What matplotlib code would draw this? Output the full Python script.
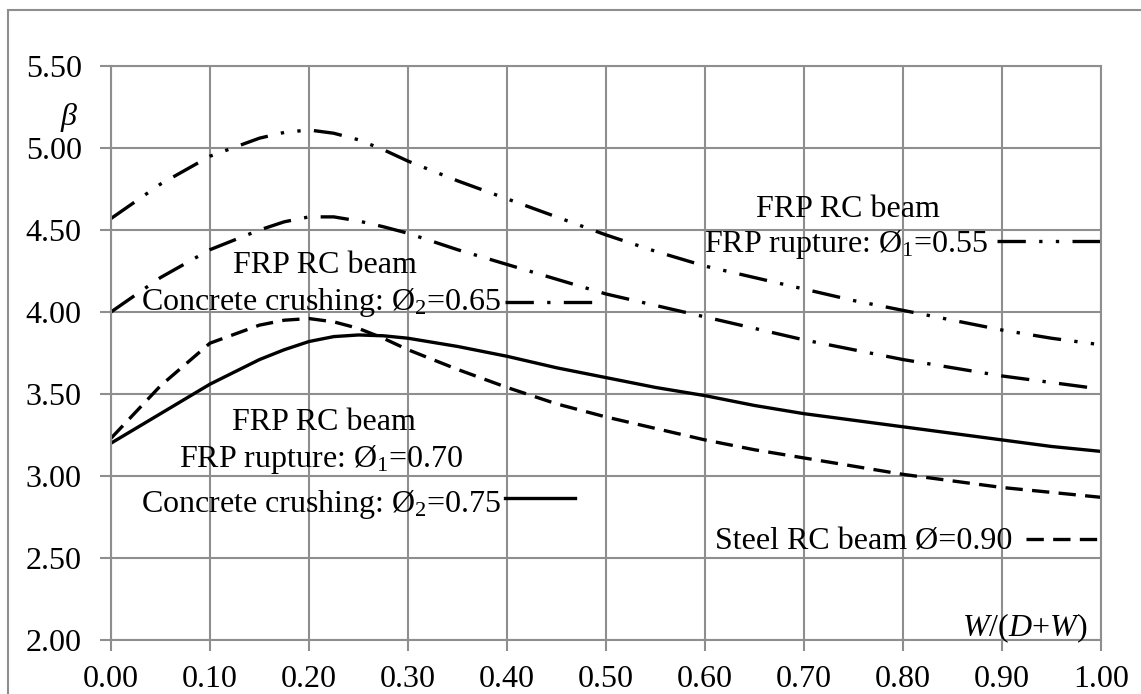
import numpy as np
import matplotlib.pyplot as plt
from matplotlib.patches import Rectangle
from matplotlib.lines import Line2D

plt.rcParams['font.family'] = ['Liberation Serif', 'DejaVu Serif']
plt.rcParams['mathtext.fontset'] = 'custom'
plt.rcParams['mathtext.rm'] = 'Liberation Serif'
plt.rcParams['mathtext.it'] = 'Liberation Serif:italic'

# W/(D+W) ratio
ratio = [0.00, 0.05, 0.10, 0.15, 0.175, 0.20, 0.225, 0.25, 0.275, 0.30, 0.35, 0.40,
         0.45, 0.50, 0.55, 0.60, 0.65, 0.70, 0.75, 0.80, 0.85, 0.90, 0.95, 1.00]

# reliability index beta for each case
beta_frp_055 = [4.57, 4.78, 4.95, 5.06, 5.095, 5.11, 5.09, 5.05, 4.99, 4.92, 4.80, 4.69,
                4.58, 4.47, 4.37, 4.28, 4.21, 4.14, 4.07, 4.01, 3.95, 3.89, 3.84, 3.80]
beta_frp_065 = [4.00, 4.21, 4.38, 4.50, 4.55, 4.58, 4.58, 4.555, 4.52, 4.48, 4.38, 4.29,
                4.20, 4.11, 4.04, 3.97, 3.90, 3.83, 3.77, 3.71, 3.66, 3.61, 3.57, 3.53]
beta_frp_070 = [3.20, 3.38, 3.56, 3.71, 3.77, 3.82, 3.85, 3.86, 3.855, 3.84, 3.79, 3.73,
                3.66, 3.60, 3.54, 3.49, 3.43, 3.38, 3.34, 3.30, 3.26, 3.22, 3.18, 3.15]
beta_steel = [3.23, 3.55, 3.81, 3.92, 3.95, 3.96, 3.94, 3.90, 3.84, 3.77, 3.65, 3.54,
              3.44, 3.36, 3.29, 3.22, 3.16, 3.11, 3.06, 3.01, 2.97, 2.93, 2.90, 2.87]

x_ticks = [0.0, 0.1, 0.2, 0.3, 0.4, 0.5, 0.6, 0.7, 0.8, 0.9, 1.0]
y_ticks = [2.0, 2.5, 3.0, 3.5, 4.0, 4.5, 5.0, 5.5]

grid_col = '#8e8e8e'
lw = 2.4
fs = 23

fig = plt.figure(figsize=(11.41, 6.94), dpi=100)
ax = fig.add_axes([111 / 1141, 1 - 640 / 694, 990 / 1141, 574 / 694])

# figure border (cut off at right and bottom in the original)
fig.patches.append(Rectangle((8 / 1141, -0.2), 1.5, 1.2 - 10 / 694,
                             transform=fig.transFigure, fill=False,
                             edgecolor=grid_col, lw=1.5))

style_055 = dict(color='black', lw=lw, dashes=(8.5, 4, 1, 4, 1, 4), dash_capstyle='butt')
style_065 = dict(color='black', lw=lw, dashes=(8.5, 4, 1, 4), dash_capstyle='butt')
style_070 = dict(color='black', lw=lw)
style_steel = dict(color='black', lw=lw, dashes=(5.2, 2.8), dash_capstyle='butt')

ax.plot(ratio, beta_frp_055, **style_055)
ax.plot(ratio, beta_frp_065, **style_065)
ax.plot(ratio, beta_frp_070, **style_070)
ax.plot(ratio, beta_steel, **style_steel)

ax.set_xlim(0, 1)
ax.set_ylim(2, 5.5)
ax.set_xticks(x_ticks)
ax.set_yticks(y_ticks)
ax.set_xticklabels([f"{v:.2f}" for v in x_ticks])
ax.set_yticklabels([f"{v:.2f}" for v in y_ticks])
ax.grid(True, color=grid_col, lw=1.5)
ax.set_axisbelow(True)
for s in ax.spines.values():
    s.set_color(grid_col)
    s.set_linewidth(1.5)
ax.tick_params(axis='both', length=8, width=1.5, color=grid_col, labelsize=fs)
ax.tick_params(axis='x', pad=10)
ax.tick_params(axis='y', pad=13)

# axis titles inside the plot area
fig.text(69 / 1141, 1 - 117 / 694, r"$\beta$", fontsize=fs, ha='center', va='center')
ax.text(0.986, 0.007, r"$W$/($D$+$W$)", fontsize=fs, ha='right', va='baseline',
        transform=ax.transAxes)

# legend-like labels
def label(x, y, s, ha='right'):
    ax.text(x, y, s, fontsize=fs, ha=ha, va='baseline', transform=ax.transAxes)

def sample(x0, x1, y, style):
    ax.add_line(Line2D([x0, x1], [y, y], transform=ax.transAxes, clip_on=False, **style))

label(0.744, 0.737, "FRP RC beam", ha='center')
label(0.886, 0.676, r"FRP rupture: Ø$_1$=0.55")
sample(0.895, 1.0, 0.695, style_055)

label(0.216, 0.639, "FRP RC beam", ha='center')
label(0.395, 0.575, r"Concrete crushing: Ø$_2$=0.65")
sample(0.398, 0.492, 0.589, style_065)

label(0.215, 0.366, "FRP RC beam", ha='center')
label(0.3556, 0.301, r"FRP rupture: Ø$_1$=0.70")
label(0.395, 0.223, r"Concrete crushing: Ø$_2$=0.75")
sample(0.398, 0.469, 0.247, style_070)

label(0.910, 0.157, "Steel RC beam Ø=0.90")
sample(0.924, 0.996, 0.176, style_steel)

fig.savefig("out.png", dpi=100)
